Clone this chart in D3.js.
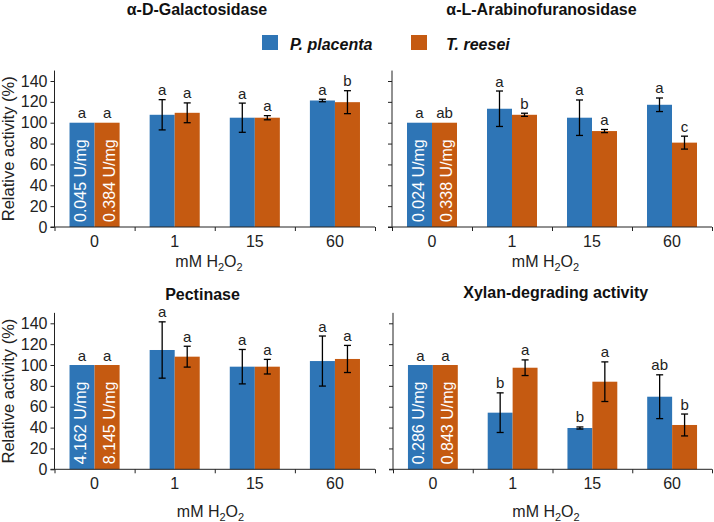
<!DOCTYPE html>
<html>
<head>
<meta charset="utf-8">
<script src="https://cdn.jsdelivr.net/npm/d3@7/dist/d3.min.js"></script>
<style>
  html, body { margin: 0; padding: 0; background: #fff; }
  svg { display: block; font-family: "Liberation Sans", Arial, sans-serif; }
</style>
</head>
<body>
<svg id="chart" width="714" height="522"></svg>
<script>
// ---------- data ----------
const categories = ["0", "1", "15", "60"];
const seriesNames = ["P. placenta", "T. reesei"];
const panelTitles = ["α-D-Galactosidase", "α-L-Arabinofuranosidase", "Pectinase", "Xylan-degrading activity"];
const yTicks = [0, 20, 40, 60, 80, 100, 120, 140];

const placentaValues = [
  [100, 107.6, 104.8, 121.3],
  [100, 113.4, 104.8, 117.2],
  [100, 114.4, 98.4, 103.8],
  [100, 54.3, 39.6, 69.6]
];
const placentaErrors = [
  [0, 14.5, 14, 1.2],
  [0, 17, 17, 6.5],
  [0, 27, 16.5, 24],
  [0, 19, 1, 21]
];
const reeseiValues = [
  [100, 109.5, 104.8, 119.7],
  [100, 107.6, 92, 80.9],
  [100, 108, 98.4, 105.8],
  [100, 97.4, 84, 42.5]
];
const reeseiErrors = [
  [0, 9.5, 2, 11],
  [0, 1.5, 1.5, 6.2],
  [0, 10, 7, 13],
  [0, 7.5, 19, 10.5]
];
const placentaLetters = [
  ["a", "a", "a", "a"],
  ["a", "a", "a", "a"],
  ["a", "a", "a", "a"],
  ["a", "b", "b", "ab"]
];
const reeseiLetters = [
  ["a", "a", "a", "b"],
  ["ab", "b", "a", "c"],
  ["a", "a", "a", "a"],
  ["a", "a", "a", "b"]
];
const placentaUnits = ["0.045 U/mg", "0.024 U/mg", "4.162 U/mg", "0.286 U/mg"];
const reeseiUnits = ["0.384 U/mg", "0.338 U/mg", "8.145 U/mg", "0.843 U/mg"];

// ---------- layout / style ----------
const colors = ["#2E75B6", "#C55A11"];
const FONT = '"Liberation Sans", Arial, sans-serif';
const layout = [
  { x0: 54.5, x1: 375, y0: 227, titleX: 197, titleY: 15, xLabX: 209, xLabY: 267, yTitle: true },
  { x0: 392, x1: 712, y0: 227, titleX: 541.5, titleY: 15, xLabX: 545.5, xLabY: 267, yTitle: false },
  { x0: 54.5, x1: 375, y0: 469.3, titleX: 202.5, titleY: 300, xLabX: 210.5, xLabY: 516.5, yTitle: true },
  { x0: 393, x1: 712, y0: 469.3, titleX: 555.7, titleY: 298, xLabX: 546, xLabY: 516.5, yTitle: false }
];
const pxPerUnit = (227 - 81) / 140;

const svg = d3.select("#chart");

panelTitles.forEach((title, p) => {
  const L = layout[p];
  const g = svg.append("g");
  const y = d3.scaleLinear().domain([0, 150]).range([L.y0, L.y0 - 150 * pxPerUnit]);
  const x = d3.scaleBand().domain(categories).range([L.x0, L.x1]).paddingInner(0).paddingOuter(0);
  const xs = d3.scaleBand().domain(seriesNames).range([0, x.bandwidth()]).paddingInner(0).paddingOuter(0.6);
  const xEdge = d3.scaleLinear().domain([0, categories.length]).range([L.x0, L.x1]);

  const vals = [placentaValues[p], reeseiValues[p]];
  const errs = [placentaErrors[p], reeseiErrors[p]];
  const lets = [placentaLetters[p], reeseiLetters[p]];
  const units = [placentaUnits[p], reeseiUnits[p]];

  // title
  g.append("text").attr("x", L.titleX).attr("y", L.titleY)
    .attr("text-anchor", "middle").attr("font-weight", "bold").attr("font-size", 16)
    .attr("fill", "#111").text(title);

  // bars
  seriesNames.forEach((s, si) => {
    g.selectAll(null).data(categories).enter().append("rect")
      .attr("x", c => x(c) + xs(s))
      .attr("width", xs.bandwidth())
      .attr("y", (c, i) => y(vals[si][i]))
      .attr("height", (c, i) => y(0) - y(vals[si][i]))
      .attr("fill", colors[si]);
  });

  // y axis
  const yAxis = d3.axisLeft(y).tickValues(yTicks).tickSize(4).tickPadding(3);
  if (!L.yTitle) yAxis.tickFormat("");
  const ya = g.append("g").attr("transform", `translate(${L.x0},0)`).call(yAxis);
  ya.select(".domain").attr("stroke", "#222").attr("d", `M0,${y(0)}V${y(150)}`);
  ya.selectAll(".tick line").attr("stroke", "#222");
  ya.selectAll(".tick text").attr("font-size", 16).attr("font-family", FONT).attr("fill", "#222");

  // x axis (ticks at band boundaries)
  const xa = g.append("g").attr("transform", `translate(0,${L.y0})`)
    .call(d3.axisBottom(xEdge).tickValues(d3.range(categories.length + 1)).tickFormat("").tickSize(4));
  xa.select(".domain").attr("stroke", "#222").attr("d", `M${L.x0 - 4},0H${L.x1}`);
  xa.selectAll(".tick line").attr("stroke", "#222");

  // category labels
  g.selectAll(null).data(categories).enter().append("text")
    .attr("x", c => x(c) + x.bandwidth() / 2)
    .attr("y", L.y0 + 20)
    .attr("text-anchor", "middle").attr("font-size", 16).attr("fill", "#222")
    .text(c => c);

  // x axis title
  const xt = g.append("text").attr("x", L.xLabX).attr("y", L.xLabY)
    .attr("text-anchor", "middle").attr("font-size", 16).attr("fill", "#222");
  xt.append("tspan").text("mM H");
  xt.append("tspan").attr("font-size", 11).attr("dy", 4).text("2");
  xt.append("tspan").attr("dy", -4).text("O");
  xt.append("tspan").attr("font-size", 11).attr("dy", 4).text("2");

  // y axis title
  if (L.yTitle) {
    g.append("text")
      .attr("transform", `translate(14,${(y(0) + y(150)) / 2}) rotate(-90)`)
      .attr("text-anchor", "middle").attr("font-size", 16.5).attr("fill", "#222")
      .text("Relative activity (%)");
  }

  // error bars, letters, unit labels
  seriesNames.forEach((s, si) => {
    categories.forEach((c, i) => {
      const cx = x(c) + xs(s) + xs.bandwidth() / 2;
      const v = vals[si][i], e = errs[si][i];
      if (e > 0) {
        g.append("line").attr("x1", cx).attr("x2", cx).attr("y1", y(v - e)).attr("y2", y(v + e))
          .attr("stroke", "#000").attr("stroke-width", 1.3);
        [v - e, v + e].forEach(t => {
          g.append("line").attr("x1", cx - 3.5).attr("x2", cx + 3.5).attr("y1", y(t)).attr("y2", y(t))
            .attr("stroke", "#000").attr("stroke-width", 1.3);
        });
      }
      g.append("text").attr("x", cx).attr("y", y(v + e) - 4.5)
        .attr("text-anchor", "middle").attr("font-size", 15).attr("fill", "#222")
        .text(lets[si][i]);
      if (i === 0) {
        const off = si === 0 ? 4 : 7.5;
        g.append("text")
          .attr("transform", `translate(${cx + off},${L.y0 - 5}) rotate(-90)`)
          .attr("text-anchor", "start").attr("font-size", 16).attr("fill", "#fff")
          .text(units[si]);
      }
    });
  });
});

// legend
const legendItems = [
  { name: seriesNames[0], rx: 262, tx: 290 },
  { name: seriesNames[1], rx: 411, tx: 446 }
];
legendItems.forEach((d, i) => {
  svg.append("rect").attr("x", d.rx).attr("y", 35).attr("width", 16).attr("height", 15).attr("fill", colors[i]);
  svg.append("text").attr("x", d.tx).attr("y", 50).attr("font-size", 16)
    .attr("font-weight", "bold").attr("font-style", "italic").attr("fill", "#111").text(d.name);
});
</script>
</body>
</html>
